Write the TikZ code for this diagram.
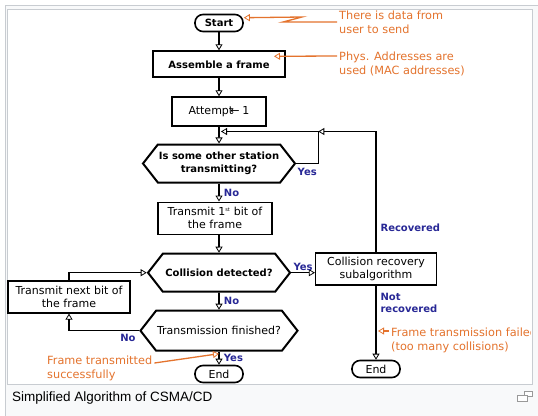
\documentclass[tikz,border=0pt]{standalone}
\usepackage{fontspec}
\setmainfont{DejaVu Sans}
\newfontfamily\capfont{Liberation Sans}
\usetikzlibrary{arrows.meta,shapes.symbols,positioning}
\definecolor{annot}{RGB}{228,115,45}
\definecolor{answer}{RGB}{40,40,150}
\definecolor{frameline}{RGB}{200,204,209}
\definecolor{capbg}{RGB}{248,249,250}
\tikzset{
  basic/.style    = {draw, align=center, inner sep=1pt, font=\fontsize{11}{13}\selectfont},
  terminal/.style = {basic, rounded corners=8pt, line width=1.6pt, minimum width=48pt,
                     minimum height=17pt},
  process/.style  = {basic, line width=1.2pt},
  decision/.style = {basic, signal, signal to=west and east, signal pointer angle=104,
                     line width=2pt, minimum width=142pt, minimum height=38pt,
                     font=\bfseries\fontsize{10}{12.5}\selectfont},
  answer/.style   = {text=answer, inner sep=0pt, font=\bfseries\fontsize{10}{12}\selectfont},
  note/.style     = {text=annot, align=left, inner sep=2pt, font=\fontsize{11.3}{14}\selectfont},
  tip/.style      = {-{Triangle[open, length=6pt, width=7pt, line width=0.8pt]}},
  flow/.style     = {tip, line width=1.8pt},
  thinflow/.style = {tip, line width=1.1pt},
  annotflow/.style= {-{Triangle[open, length=6pt, width=7pt, line width=0.8pt]}, draw=annot, line width=1.3pt}
}
\begin{document}
\begin{tikzpicture}[x=1pt, y=-1pt]
  \useasboundingbox (0,0) rectangle (538,415);

  % thumbnail frame and caption area
  \filldraw[fill=capbg, draw=frameline] (5,5) rectangle (540,430);
  \filldraw[fill=white, draw=frameline] (7.5,9) rectangle (532,384);

  % main column, relatively positioned
  \node[terminal, font=\bfseries\fontsize{10}{12}\selectfont] (start) at (219,23) {Start};
  \node[process, line width=2pt, below=18pt of start, minimum width=132pt, minimum height=26pt,
        font=\bfseries\fontsize{10}{12}\selectfont] (assemble) {Assemble a frame};
  \node[process, below=18pt of assemble, minimum width=94pt, minimum height=29pt] (attempt)
    {Attempt\kern-3pt←\kern3pt1};
  \node[decision, below=17pt of attempt] (busy) {Is some other station\\transmitting?};
  \node[process, below=18pt of busy, xshift=-4pt, minimum width=114pt, minimum height=32pt] (firstbit)
    {Transmit 1\textsuperscript{\tiny st} bit of\\the frame};
  \node[decision, below=18pt of firstbit, xshift=4pt] (collide) {Collision detected?};
  \node[decision, font=\fontsize{11}{13}\selectfont, minimum height=40pt,
        below=17pt of collide] (finished) {Transmission finished?};
  \node[terminal, below=13pt of finished] (end1) {End};

  % side nodes
  \node[process, minimum width=121pt, minimum height=32pt] (recover) at (376,269)
    {Collision recovery\\subalgorithm};
  \node[process, minimum width=122pt, minimum height=32pt] (nextbit) at (69,297)
    {Transmit next bit of\\the frame};
  \node[terminal] (end2) at (376,369) {End};

  % connectors
  \draw[flow] (start) -- (assemble);
  \draw[flow] (assemble) -- (attempt);
  \draw[flow] (attempt) -- (busy);
  \coordinate[below=5pt of attempt.south, xshift=2pt] (loopin);
  \draw[thinflow] (busy.east) -- node[answer, below=4pt]{Yes} ++(22,0) coordinate (yesright)
    |- (loopin);
  \draw[flow] (busy.south) -- node[answer, right=4pt]{No} (busy.south |- firstbit.north);
  \draw[flow] (busy.south |- firstbit.south) -- (collide);
  \draw[thinflow] (collide.east) -- node[answer, above=2pt]{Yes} (collide.east -| recover.west);
  \draw[thinflow] (recover.north) |- node[answer, pos=0.1, right=4pt]{Recovered} (yesright |- loopin);
  \draw[thinflow] (recover.south) -- node[answer, pos=0.24, right=4pt, align=left]{Not\\recovered}
    (end2.north);
  \draw[flow] (collide) -- node[answer, right=4pt]{No} (finished);
  \draw[thinflow] (finished.west) -| node[answer, pos=0.08, below=3pt]{No} (nextbit.south);
  \draw[thinflow] (nextbit.north) |- (collide.west);
  \draw[flow] (finished) -- node[answer, right=4pt]{Yes} (end1);

  % orange remarks
  \node[note, anchor=west] (datanote) at (337,22) {There is data from\\user to send};
  \node[note, anchor=west] (physnote) at (337,64) {Phys. Addresses are\\used (MAC addresses)};
  \node[note, anchor=west] (successnote) at (45,368) {Frame transmitted\\successfully};
  \begin{scope}
    \clip (0,0) rectangle (530,415);
    \node[note, anchor=west] (failnote) at (389,340) {Frame transmission failed\\(too many collisions)};
  \end{scope}
  \draw[annotflow] (datanote.west) -- ++(-54,0) -- ++(19,-5) -- (start.12);
  \draw[annotflow] ([yshift=8pt]physnote.west) -- ([xshift=-12pt,yshift=8pt]assemble.east);
  \draw[annotflow] ([yshift=5pt]successnote.east) -- ([yshift=11pt]end1.north);
  \draw[annotflow] ([yshift=9pt]failnote.west) -- ++(-11,0);

  % caption
  \node[anchor=west, inner sep=0pt, font=\capfont\fontsize{13.5}{16}\selectfont] (caption) at (12,398)
    {Simplified Algorithm of CSMA/CD};
  \filldraw[fill=white, draw=gray!80, line width=0.8pt] (524,391) rectangle (532,396);
  \filldraw[fill=white, draw=gray!80, line width=0.8pt] (517,395) rectangle (527,401);
\end{tikzpicture}
\end{document}
